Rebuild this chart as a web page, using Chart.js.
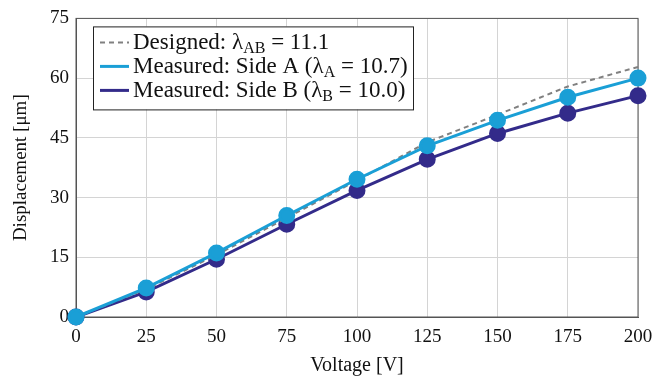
<!DOCTYPE html>
<html>
<head>
<meta charset="utf-8">
<script src="https://cdn.jsdelivr.net/npm/chart.js@4"></script>
<style>
  html, body { margin: 0; padding: 0; background: #fff; }
  #wrap { width: 652px; height: 381px; }
</style>
</head>
<body>
<div id="wrap"><canvas id="dispChart" width="652" height="381"></canvas></div>
<script>
const voltage = [0, 25, 50, 75, 100, 125, 150, 175, 200];
const designed = [0, 7.0, 15.6, 24.9, 34.3, 43.9, 50.8, 57.9, 62.8];
const sideA = [0, 7.3, 16.1, 25.5, 34.6, 43.0, 49.4, 55.2, 60.0];
const sideB = [0, 6.3, 14.5, 23.3, 31.8, 39.6, 46.1, 51.2, 55.6];

const xTicks = [0, 25, 50, 75, 100, 125, 150, 175, 200];
const yTicks = [0, 15, 30, 45, 60, 75];

// legend text pieces: [normal, subscript, normal]
const legendDesigned = ['Designed: λ', 'AB', ' = 11.1'];
const legendA = ['Measured: Side A (λ', 'A', ' = 10.7)'];
const legendB = ['Measured: Side B (λ', 'B', ' = 10.0)'];

const colorA = '#1a9fd6';
const colorB = '#332b8a';
const colorDesigned = '#808080';
const serif = '"Liberation Serif", "DejaVu Serif", serif';

const legendItems = [
    { parts: legendDesigned, color: colorDesigned, dash: [5, 4], width: 2 },
    { parts: legendA, color: colorA, dash: [], width: 3 },
    { parts: legendB, color: colorB, dash: [], width: 3 }
];

const boxLegend = {
    id: 'boxLegend',
    afterDraw(chart) {
        const ctx = chart.ctx;
        const area = chart.chartArea;
        const x0 = area.left + 17, y0 = area.top + 8;
        const w = 320, h = 83;
        ctx.save();
        ctx.fillStyle = '#fff';
        ctx.fillRect(x0, y0, w, h);
        ctx.strokeStyle = '#222';
        ctx.lineWidth = 1;
        ctx.strokeRect(x0 + 0.5, y0 + 0.5, w, h);
        legendItems.forEach((item, i) => {
            const cy = y0 + 16 + i * 24;
            ctx.beginPath();
            ctx.setLineDash(item.dash);
            ctx.strokeStyle = item.color;
            ctx.lineWidth = item.width;
            ctx.moveTo(x0 + 7, cy);
            ctx.lineTo(x0 + 36, cy);
            ctx.stroke();
            ctx.setLineDash([]);
            ctx.fillStyle = '#111';
            ctx.textBaseline = 'alphabetic';
            let tx = x0 + 40;
            const base = cy + 7;
            ctx.font = '23px ' + serif;
            ctx.fillText(item.parts[0], tx, base);
            tx += ctx.measureText(item.parts[0]).width;
            ctx.font = '16px ' + serif;
            ctx.fillText(item.parts[1], tx, base + 4);
            tx += ctx.measureText(item.parts[1]).width;
            ctx.font = '23px ' + serif;
            ctx.fillText(item.parts[2], tx, base);
        });
        ctx.restore();
    }
};

const frameBox = {
    id: 'frameBox',
    beforeDatasetsDraw(chart) {
        const ctx = chart.ctx;
        const a = chart.chartArea;
        ctx.save();
        ctx.strokeStyle = '#555';
        ctx.lineWidth = 1;
        ctx.strokeRect(a.left, a.top, a.right - a.left, a.bottom - a.top);
        ctx.restore();
    }
};

const chartConfig = {
    type: 'line',
    data: {
        labels: voltage,
        datasets: [
            {
                label: legendA.join(''),
                data: sideA,
                borderColor: colorA,
                backgroundColor: colorA,
                borderWidth: 3,
                pointRadius: 7,
                pointHoverRadius: 7,
                order: 0,
                clip: false
            },
            {
                label: legendDesigned.join(''),
                data: designed,
                borderColor: colorDesigned,
                borderWidth: 2,
                borderDash: [5, 4],
                pointRadius: 0,
                order: 1,
                clip: false
            },
            {
                label: legendB.join(''),
                data: sideB,
                borderColor: colorB,
                backgroundColor: colorB,
                borderWidth: 3,
                pointRadius: 7,
                pointHoverRadius: 7,
                order: 2,
                clip: false
            }
        ]
    },
    options: {
        responsive: false,
        animation: false,
        layout: { padding: { left: 6, top: 16, right: 14, bottom: 0 } },
        plugins: { legend: { display: false }, tooltip: { enabled: false } },
        scales: {
            x: {
                type: 'linear',
                min: 0,
                max: 200,
                afterBuildTicks: (s) => { s.ticks = xTicks.map(v => ({ value: v })); },
                afterFit: (s) => { s.height = 64; s.paddingRight = 0; s.paddingLeft = 0; },
                grid: { color: '#d4d4d4', drawTicks: false },
                border: { color: '#555' },
                ticks: { color: '#111', padding: 9, font: { family: serif, size: 19 } },
                title: {
                    display: true,
                    text: 'Voltage [V]',
                    color: '#111',
                    padding: { top: 2, bottom: 3 },
                    font: { family: serif, size: 20 }
                }
            },
            y: {
                min: 0,
                max: 75,
                afterBuildTicks: (s) => { s.ticks = yTicks.map(v => ({ value: v })); },
                afterFit: (s) => { s.width = 70; },
                grid: { color: '#d4d4d4', drawTicks: false },
                border: { color: '#555' },
                ticks: { color: '#111', padding: 7, font: { family: serif, size: 19 } },
                title: {
                    display: true,
                    text: 'Displacement [μm]',
                    color: '#111',
                    padding: { bottom: 4 },
                    font: { family: serif, size: 19 }
                }
            }
        }
    },
    plugins: [frameBox, boxLegend]
};

const dispChart = new Chart(document.getElementById('dispChart'), chartConfig);
</script>
</body>
</html>
